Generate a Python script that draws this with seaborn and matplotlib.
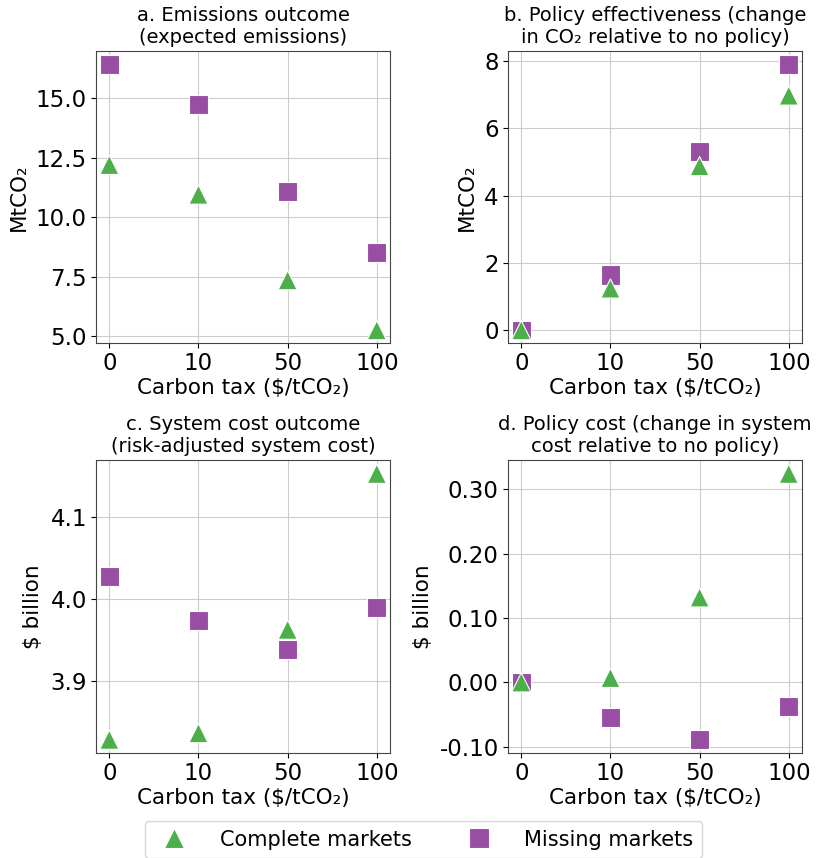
import matplotlib
matplotlib.use("Agg")
import matplotlib.pyplot as plt
import seaborn as sns
import pandas as pd
from matplotlib.ticker import FixedLocator, FormatStrFormatter

# ---- data ----
taxes = ["0", "10", "50", "100"]
series_names = ["Complete markets", "Missing markets"]

a_complete = [12.2, 10.95, 7.35, 5.25]
a_missing = [16.43, 14.75, 11.07, 8.5]

b_complete = [0.0, 1.24, 4.88, 6.98]
b_missing = [0.0, 1.64, 5.32, 7.91]

c_complete = [3.829, 3.837, 3.963, 4.153]
c_missing = [4.028, 3.974, 3.939, 3.990]

d_complete = [0.0, 0.007, 0.132, 0.324]
d_missing = [0.0, -0.054, -0.089, -0.037]

a_ticks = [5.0, 7.5, 10.0, 12.5, 15.0]
b_ticks = [0, 2, 4, 6, 8]
c_ticks = [3.9, 4.0, 4.1]
d_ticks = [-0.1, 0.0, 0.1, 0.2, 0.3]

titles = [
    "a. Emissions outcome\n(expected emissions)",
    "b. Policy effectiveness (change\nin CO\u2082 relative to no policy)",
    "c. System cost outcome\n(risk-adjusted system cost)",
    "d. Policy cost (change in system\ncost relative to no policy)",
]
ylabels = ["MtCO\u2082", "MtCO\u2082", "$ billion", "$ billion"]
xlabel = "Carbon tax ($/tCO\u2082)"

colors = {"Complete markets": "#4daf4a", "Missing markets": "#984ea3"}
markers = {"Complete markets": "^", "Missing markets": "s"}

plt.rcParams["font.family"] = ["DejaVu Sans"]
plt.rcParams["axes.unicode_minus"] = False

fig, axes = plt.subplots(2, 2, figsize=(8.16, 8.58), dpi=100)
fig.subplots_adjust(left=0.1176, right=0.983, top=0.9406, bottom=0.1224,
                    wspace=0.40, hspace=0.40)

panels = [(a_complete, a_missing), (b_complete, b_missing),
          (c_complete, c_missing), (d_complete, d_missing)]
tick_sets = [(a_ticks, "%.1f"), (b_ticks, "%d"), (c_ticks, "%.1f"), (d_ticks, "%.2f")]

for ax, (comp, miss), title, ylab, (tks, fmt) in zip(axes.flat, panels, titles,
                                                     ylabels, tick_sets):
    df = pd.DataFrame({
        "tax": taxes + taxes,
        "value": miss + comp,
        "market": ["Missing markets"] * 4 + ["Complete markets"] * 4,
    })
    sns.scatterplot(data=df, x="tax", y="value", hue="market", style="market",
                    hue_order=series_names, style_order=series_names,
                    palette=colors, markers=markers, s=190, ax=ax,
                    edgecolor="white", linewidth=0.8, zorder=3)
    ax.set_title(title, fontsize=14)
    ax.set_xlabel(xlabel, fontsize=15.5, labelpad=2)
    ax.set_ylabel(ylab, fontsize=15.5, labelpad=5)
    ax.tick_params(labelsize=16.5, pad=3)
    ax.yaxis.set_major_locator(FixedLocator(tks))
    ax.yaxis.set_major_formatter(FormatStrFormatter(fmt))
    ax.grid(True, color="#cccccc", linewidth=0.8)
    ax.set_axisbelow(True)
    for sp in ax.spines.values():
        sp.set_color("#444444")
    ax.get_legend().remove()

handles, labels = axes[0, 0].get_legend_handles_labels()
fig.legend(handles, labels, loc="upper center", bbox_to_anchor=(0.519, 0.055),
           ncol=2, fontsize=15, handletextpad=1.2, columnspacing=2.2,
           frameon=True)

fig.savefig("out.png", dpi=100)
